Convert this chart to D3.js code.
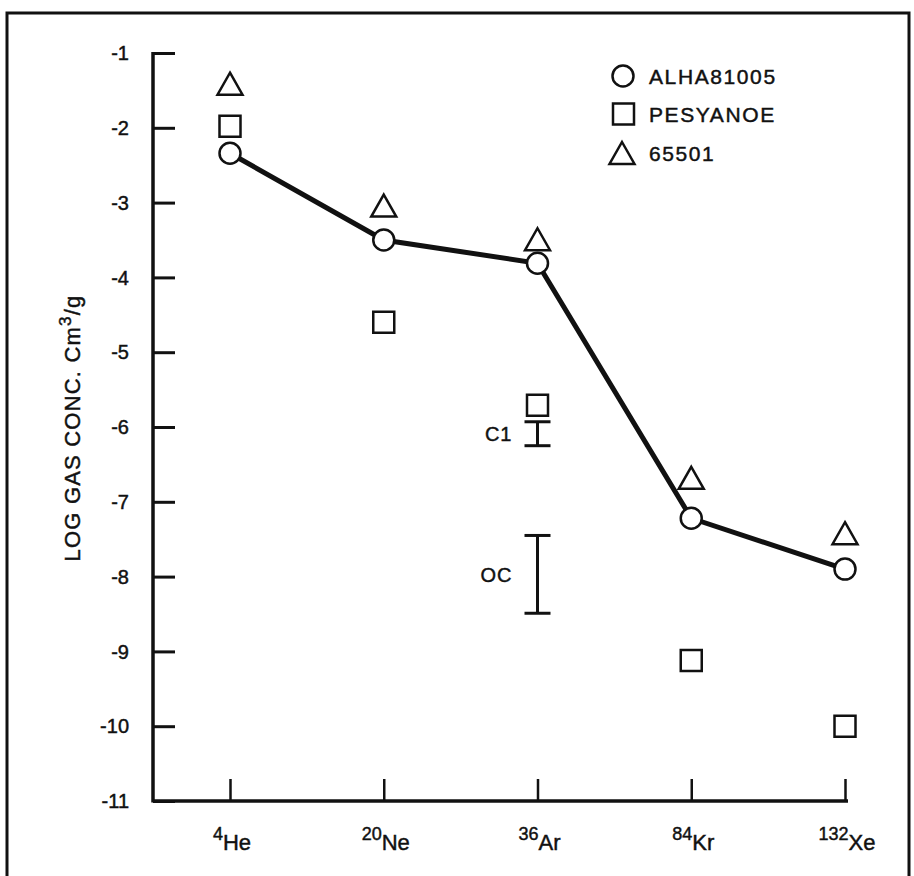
<!DOCTYPE html>
<html><head><meta charset="utf-8">
<script src="https://cdn.jsdelivr.net/npm/d3@7"></script>
<style>
html,body{margin:0;padding:0;background:#fff;}
svg{display:block;font-family:"Liberation Sans",Arial,Helvetica,sans-serif;}
svg text{stroke:#111;stroke-width:0.45px;}
</style></head>
<body>
<svg id="chart" width="914" height="876"></svg>
<script>
// ---- data ----
const elements = ["He", "Ne", "Ar", "Kr", "Xe"];
const massNumbers = ["4", "20", "36", "84", "132"];
const alha81005 = [-2.34, -3.50, -3.81, -7.22, -7.90];
const pesyanoe = [-1.98, -4.60, -5.71, -9.12, -10.0];
const s65501 = [-1.41, -3.04, -3.49, -6.68, -7.42];
const yTicks = [-1, -2, -3, -4, -5, -6, -7, -8, -9, -10, -11];
const rangeLabels = ["C1", "OC"];
const rangeCategory = ["Ar", "Ar"];
const rangeHigh = [-5.93, -7.45];
const rangeLow = [-6.25, -8.49];
const legendNames = ["ALHA81005", "PESYANOE", "65501"];
const yTitle = "LOG GAS CONC. Cm";

// ---- layout ----
const svg = d3.select("#chart");
const ink = "#111";
const x = d3.scaleLinear().domain([0, 4]).range([230, 845]);
const y = d3.scaleLinear().domain([-1, -11]).range([53, 801]);
const xi = e => x(elements.indexOf(e));

// frame
svg.append("rect").attr("x", 7).attr("y", 13).attr("width", 902).attr("height", 900)
  .attr("fill", "none").attr("stroke", ink).attr("stroke-width", 3);

// y axis
const yAxisX = 153;
const yAx = svg.append("g").attr("transform", `translate(${yAxisX},0)`)
  .call(d3.axisRight(y).tickValues(yTicks).tickSize(22).tickFormat(""));
yAx.select(".domain").remove();
yAx.selectAll(".tick line").attr("stroke", ink).attr("stroke-width", 3);
svg.append("line").attr("x1", yAxisX).attr("x2", yAxisX).attr("y1", y(-1) - 1).attr("y2", y(-11) + 1.5)
  .attr("stroke", ink).attr("stroke-width", 3.5);
svg.append("g").selectAll("text").data(yTicks).join("text")
  .attr("x", 129).attr("y", d => y(d)).attr("dy", "0.36em")
  .attr("text-anchor", "end").attr("font-size", 20).attr("fill", ink)
  .text(d => "-" + Math.abs(d));

// x axis
const xAx = svg.append("g").attr("transform", `translate(0,${y(-11)})`)
  .call(d3.axisBottom(x).tickValues(d3.range(elements.length)).tickSize(-22).tickSizeOuter(0).tickFormat(""));
xAx.select(".domain").remove();
xAx.selectAll(".tick line").attr("stroke", ink).attr("stroke-width", 2.5);
svg.append("line").attr("x1", yAxisX).attr("x2", x(4) + 3).attr("y1", y(-11)).attr("y2", y(-11))
  .attr("stroke", ink).attr("stroke-width", 3.5);
const xl = svg.append("g").selectAll("text").data(elements).join("text")
  .attr("x", (d, i) => x(i) + 2).attr("y", 850).attr("text-anchor", "middle").attr("fill", ink);
xl.append("tspan").attr("font-size", 18).attr("dy", -10).text((d, i) => massNumbers[i]);
xl.append("tspan").attr("font-size", 22).attr("dy", 10).text(d => d);

// y title
const yt = svg.append("text").attr("transform", "translate(80,428) rotate(-90)")
  .attr("text-anchor", "middle").attr("font-size", 22).attr("letter-spacing", 1.2).attr("fill", ink);
yt.append("tspan").text(yTitle);
yt.append("tspan").attr("font-size", 17).attr("dy", -9).text("3");
yt.append("tspan").attr("dy", 9).text("/g");

// marker shapes
const sq = s => `M${-s},${-s}H${s}V${s}H${-s}Z`;
const tri = (w, h) => `M0,${-h}L${w},${h}L${-w},${h}Z`;

// range bars (C1, OC)
const rb = svg.append("g");
rangeLabels.forEach((lab, i) => {
  const cx = xi(rangeCategory[i]);
  rb.append("line").attr("x1", cx).attr("x2", cx).attr("y1", y(rangeHigh[i])).attr("y2", y(rangeLow[i]))
    .attr("stroke", ink).attr("stroke-width", 3);
  [rangeHigh[i], rangeLow[i]].forEach(v => {
    rb.append("line").attr("x1", cx - 13).attr("x2", cx + 13).attr("y1", y(v)).attr("y2", y(v))
      .attr("stroke", ink).attr("stroke-width", 3);
  });
  rb.append("text").attr("x", cx - 25).attr("y", (y(rangeHigh[i]) + y(rangeLow[i])) / 2).attr("dy", "0.36em")
    .attr("text-anchor", "end").attr("font-size", 20).attr("letter-spacing", 1).attr("fill", ink).text(lab);
});

// PESYANOE squares
svg.append("g").selectAll("path").data(pesyanoe).join("path")
  .attr("transform", (d, i) => `translate(${x(i)},${y(d)})`)
  .attr("d", sq(10.5)).attr("fill", "#fff").attr("stroke", ink).attr("stroke-width", 2.5);

// 65501 triangles
svg.append("g").selectAll("path").data(s65501).join("path")
  .attr("transform", (d, i) => `translate(${x(i)},${y(d)})`)
  .attr("d", tri(12.5, 11)).attr("fill", "#fff").attr("stroke", ink).attr("stroke-width", 2.5)
  .attr("stroke-linejoin", "miter");

// ALHA81005 line + circles
svg.append("path").datum(alha81005)
  .attr("d", d3.line().x((d, i) => x(i)).y(d => y(d)))
  .attr("fill", "none").attr("stroke", ink).attr("stroke-width", 5);
svg.append("g").selectAll("circle").data(alha81005).join("circle")
  .attr("cx", (d, i) => x(i)).attr("cy", d => y(d)).attr("r", 10.5)
  .attr("fill", "#fff").attr("stroke", ink).attr("stroke-width", 2.5);

// legend
const lg = svg.append("g");
const legY = [76, 114, 153];
lg.append("circle").attr("cx", 623).attr("cy", legY[0]).attr("r", 10.5)
  .attr("fill", "#fff").attr("stroke", ink).attr("stroke-width", 2.5);
lg.append("path").attr("transform", `translate(623.5,${legY[1]})`).attr("d", sq(10.5))
  .attr("fill", "#fff").attr("stroke", ink).attr("stroke-width", 2.5);
lg.append("path").attr("transform", `translate(622,${legY[2]})`).attr("d", tri(12.5, 11))
  .attr("fill", "#fff").attr("stroke", ink).attr("stroke-width", 2.5);
lg.selectAll("text").data(legendNames).join("text")
  .attr("x", 649).attr("y", (d, i) => legY[i]).attr("dy", "0.36em")
  .attr("font-size", 21).attr("letter-spacing", 1.6).attr("fill", ink).text(d => d);
</script>
</body></html>
